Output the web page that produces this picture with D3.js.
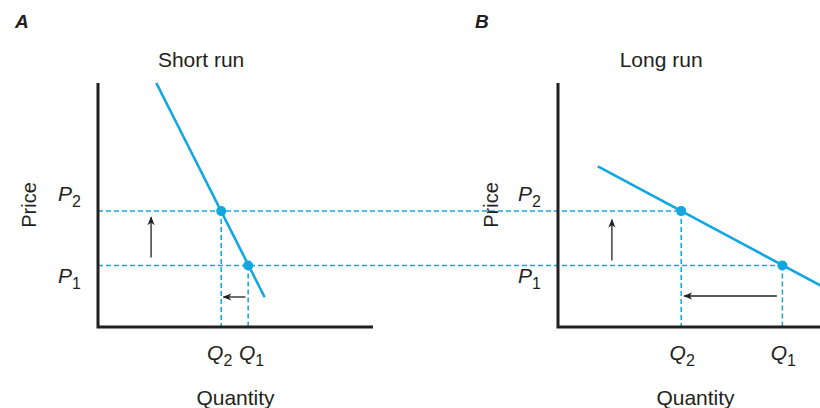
<!DOCTYPE html>
<html>
<head>
<meta charset="utf-8">
<script src="https://cdn.jsdelivr.net/npm/d3@7/dist/d3.min.js"></script>
<style>
  body { margin: 0; background: #fff; }
  svg { display: block; font-family: "Liberation Sans", Arial, sans-serif; }
</style>
</head>
<body>
<svg id="chart" width="820" height="408"></svg>
<script>
// price levels (shared by both panels), in chart units 0-100
const priceNames = ["1", "2"];
const prices = [25.2, 47.5];

// demand curves: [quantity, price] end points
const shortRunCurve = [[21.2, 100], [60.6, 12.2]];
const longRunCurve = [[14.5, 65.8], [96, 16.7]];

// quantities demanded at P1 and P2
const quantityNames = ["1", "2"];
const shortRunQ = [54.6, 44.8];
const longRunQ = [81.6, 44.8];

// arrows: price rise [x, yFrom, yTo], quantity fall [y, xFrom, xTo]
const shortRunArrows = { up: [19.3, 28.5, 45], left: [12.3, 53.6, 45.6] };
const longRunArrows = { up: [19.6, 27.3, 44], left: [12.7, 79.6, 45.9] };

const panelTitles = ["Short run", "Long run"];
const panelLetters = ["A", "B"];

const blue = "#12a7e0";
const ink = "#231f20";

let svg = d3.select("#chart");

let yScale = d3.scaleLinear().domain([0, 100]).range([327, 83]);
let xA = d3.scaleLinear().domain([0, 100]).range([98, 373]);
let xB = d3.scaleLinear().domain([0, 100]).range([558, 833]);

svg.append("defs").append("marker")
    .attr("id", "head")
    .attr("viewBox", "0 0 10 10")
    .attr("refX", 9).attr("refY", 5)
    .attr("markerWidth", 9).attr("markerHeight", 9)
    .attr("markerUnits", "userSpaceOnUse")
    .attr("orient", "auto")
    .append("path")
    .attr("d", "M0,1 L10,5 L0,9 L3,5 Z")
    .attr("fill", ink);

// long horizontal dashed price lines run from panel A across to panel B's point
let dashGroup = svg.append("g");
prices.forEach((p, i) => {
    dashGroup.append("line")
        .attr("x1", xA(0)).attr("x2", xB(longRunQ[i]))
        .attr("y1", yScale(p)).attr("y2", yScale(p))
        .attr("stroke", blue).attr("stroke-width", 1.5)
        .attr("stroke-dasharray", "5,3");
});

function drawPanel(x, curve, qs, arrows, title, letter, labelX, priceX, qNudge) {
    let g = svg.append("g");

    // vertical dashed quantity lines
    qs.forEach((q, i) => {
        g.append("line")
            .attr("x1", x(q)).attr("x2", x(q))
            .attr("y1", yScale(prices[i])).attr("y2", yScale(0))
            .attr("stroke", blue).attr("stroke-width", 1.5)
            .attr("stroke-dasharray", "5,3");
    });

    // axes
    g.append("path")
        .attr("d", `M${x(0)},${yScale(100)} V${yScale(0)} H${x(100)}`)
        .attr("fill", "none").attr("stroke", ink).attr("stroke-width", 3);

    // demand curve
    g.append("path")
        .datum(curve)
        .attr("d", d3.line().x(d => x(d[0])).y(d => yScale(d[1])))
        .attr("stroke", blue).attr("stroke-width", 2.6).attr("fill", "none");

    // equilibrium points
    g.selectAll("circle")
        .data(qs.map((q, i) => [q, prices[i]]))
        .enter().append("circle")
        .attr("cx", d => x(d[0])).attr("cy", d => yScale(d[1]))
        .attr("r", 5).attr("fill", blue);

    // arrows
    g.append("line")
        .attr("x1", x(arrows.up[0])).attr("x2", x(arrows.up[0]))
        .attr("y1", yScale(arrows.up[1])).attr("y2", yScale(arrows.up[2]))
        .attr("stroke", ink).attr("stroke-width", 1.3)
        .attr("marker-end", "url(#head)");
    g.append("line")
        .attr("x1", x(arrows.left[1])).attr("x2", x(arrows.left[2]))
        .attr("y1", yScale(arrows.left[0])).attr("y2", yScale(arrows.left[0]))
        .attr("stroke", ink).attr("stroke-width", 1.3)
        .attr("marker-end", "url(#head)");

    // P labels
    prices.forEach((p, i) => {
        let t = g.append("text")
            .attr("x", labelX).attr("y", yScale(p) + (i === 1 ? -10 : 17))
            .attr("font-size", 21).attr("fill", ink);
        t.append("tspan").attr("font-style", "italic").text("P");
        t.append("tspan").attr("font-size", 16).attr("dy", 6).text(priceNames[i]);
    });

    // Q labels (nudged apart where they would touch)
    qs.forEach((q, i) => {
        let t = g.append("text")
            .attr("x", x(q) + 1 + qNudge[i]).attr("y", 360)
            .attr("text-anchor", "middle")
            .attr("font-size", 21).attr("fill", ink);
        t.append("tspan").attr("font-style", "italic").text("Q");
        t.append("tspan").attr("font-size", 16).attr("dy", 6).text(quantityNames[i]);
    });

    g.append("text")
        .attr("x", x(50)).attr("y", 405)
        .attr("text-anchor", "middle")
        .attr("font-size", 21).attr("fill", ink)
        .text("Quantity");

    g.append("text")
        .attr("transform", `translate(${priceX},${yScale(50)}) rotate(-90)`)
        .attr("x", 0).attr("y", 0)
        .attr("text-anchor", "middle")
        .attr("font-size", 20).attr("fill", ink)
        .text("Price");

    g.append("text")
        .attr("x", x(37.5)).attr("y", 67)
        .attr("text-anchor", "middle")
        .attr("font-size", 21).attr("fill", ink)
        .text(title);

    g.append("text")
        .attr("x", x(0) - 83).attr("y", 28)
        .attr("font-size", 19).attr("font-weight", "bold").attr("font-style", "italic")
        .attr("fill", ink)
        .text(letter);
}

drawPanel(xA, shortRunCurve, shortRunQ, shortRunArrows, panelTitles[0], panelLetters[0], 58, 36, [2.5, -2.5]);
drawPanel(xB, longRunCurve, longRunQ, longRunArrows, panelTitles[1], panelLetters[1], 518, 498, [0, 0]);
</script>
</body>
</html>
